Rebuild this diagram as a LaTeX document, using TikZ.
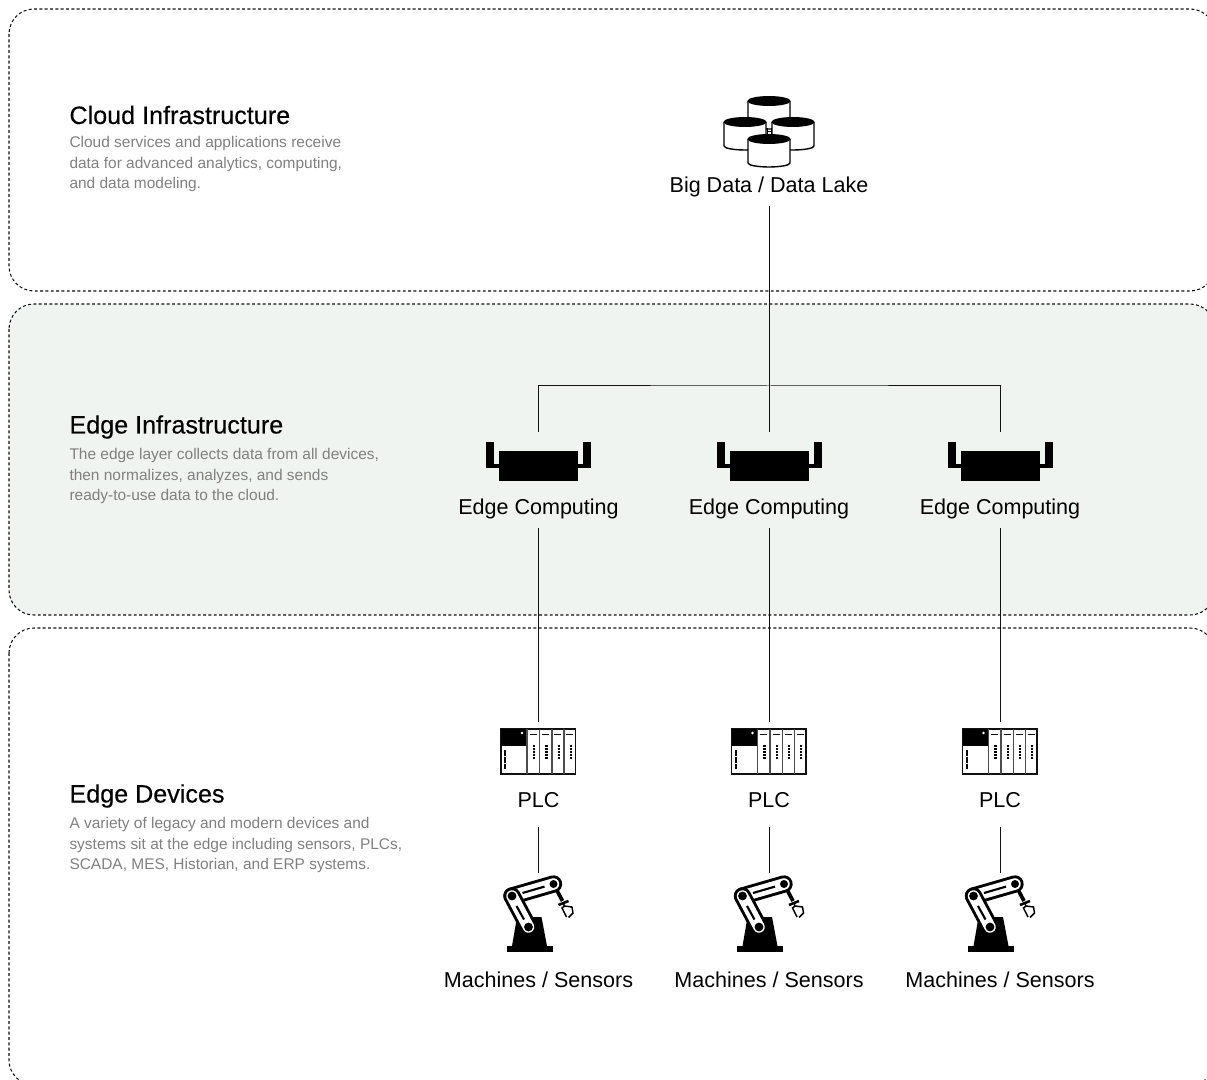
\documentclass[tikz,border=0pt]{standalone}
\usepackage{fontspec}
\setmainfont{Liberation Sans}
\definecolor{edgebg}{HTML}{EFF4F1}
\definecolor{desc}{HTML}{808080}
\definecolor{ink}{HTML}{111111}
\tikzset{
  x=0.75pt,y=-0.75pt,
  region/.style={draw=ink,line width=0.8pt,dash pattern=on 2.2pt off 1.8pt,rounded corners=18.75pt},
  wire/.style={draw=ink,line width=0.75pt},
  lbl/.style={inner sep=0pt,outer sep=0pt,font=\fontsize{16.15}{19}\selectfont,text=black,minimum height=29.25pt,align=center},
  lblplc/.style={lbl,minimum height=39.75pt},
  heading/.style={inner sep=0pt,outer sep=0pt,anchor=west,font=\fontsize{18.85}{22}\selectfont\addfontfeature{FakeBold=0.25},text=black},
  descr/.style={inner sep=0pt,outer sep=0pt,anchor=north west,align=left,font=\fontsize{11.6}{15.6}\selectfont,text=desc},
  holder/.style={inner sep=0pt,outer sep=0pt,minimum width=30pt},
  cyl/.pic={
    \draw[fill=white,line width=1.05pt,draw=black] (-21,0) -- (-21,24) arc[start angle=180,end angle=0,x radius=21,y radius=4] -- (21,0);
    \fill[black] (0,0) ellipse[x radius=21.6,y radius=5];
  },
  edgeicon/.pic={
    \fill[black] (-39.5,-6) rectangle (39.5,24);
    \fill[black] (-52.5,-15) rectangle (-44.5,11);
    \fill[black] (44.5,-15) rectangle (52.5,11);
    \fill[black] (-44.5,7) rectangle (-39.5,11);
    \fill[black] (39.5,7) rectangle (44.5,11);
  },
  plcicon/.pic={
    \draw[fill=white,draw=ink,line width=1pt] (-37.5,-22) rectangle (37,23);
    \fill[black] (-37.5,-22) rectangle (-11.5,-5.5);
    \fill[white] (-16.5,-18) circle[radius=1.4];
    \foreach \yy in {-1,5.8,12.6} {\fill[black] (-34.5,\yy) rectangle (-32.1,\yy+5.8);}
    \foreach \xx in {-11.5,1,13.3,25.3} {
      \draw[ink!75,line width=1.2pt] (\xx,-22) -- (\xx,23);
      \draw[ink,line width=0.75pt] (\xx+2.5,-16.7) -- (\xx+9.5,-16.7);
      \foreach \yy in {-6.4,-3.2,0,3.2,6.4} {\fill[black] (\xx+5.9,\yy) rectangle (\xx+8.1,\yy+2);}
    }
  },
  roboticon/.pic={
    \fill[black] (-32,31) rectangle (14,37);
    \fill[black] (-26.5,31) -- (-22.5,8) -- (-22,2) -- (3,2) -- (8.5,31) -- cycle;
    % wrist and gripper
    \draw[black,line width=2.8pt] (15,-31) -- (24,-14);
    \draw[black,line width=1.9pt] (20,-10) -- (30,-14);
    \draw[black,line width=1.1pt] (25,-12) -- (26,-8);
    \draw[black,line width=1.1pt] (26,-9) -- (23.5,-7) -- (28,2);
    \draw[black,line width=1.1pt] (26,-9) -- (33.5,-8) -- (34.5,-2) -- (30,2.5);
    % upper link
    \draw[black,line width=13pt,line cap=round] (-26.5,-19) -- (15,-31);
    \draw[white,line width=8.6pt,line cap=round] (-26.5,-19) -- (15,-31);
    \draw[black,line width=1.6pt] (-16,-22) -- (6,-28.4);
    \fill[black] (15,-31) circle[radius=4];
    % lower link
    \draw[black,line width=13pt,line cap=round] (-26.5,-19) -- (-10,12);
    \draw[white,line width=8.6pt,line cap=round] (-26.5,-19) -- (-10,12);
    \draw[black,line width=1.6pt] (-22,-9) -- (-14.5,4.5);
    \fill[black] (-26.5,-19) circle[radius=4.4];
    \fill[black] (-10,12) circle[radius=4.4];
  },
}
\begin{document}
\begin{tikzpicture}
\useasboundingbox (0,0) rectangle (1207,1080);
\begin{scope}
  \clip (0,0) rectangle (1207,1080);
  \path[region] (9,9) rectangle (1215,291);
  \path[region,fill=edgebg] (9,304) rectangle (1215,615);
  \path[region] (9,628) rectangle (1215,1085);
\end{scope}

% left column
\node[heading] (h1) at (69.5,115) {Cloud Infrastructure};
\node[descr] (d1) at (69.5,136) {Cloud services and applications receive\\data for advanced analytics, computing,\\and data modeling.};
\node[heading] (h2) at (69.5,427) {Edge Infrastructure};
\node[descr] (d2) at (69.5,448) {The edge layer collects data from all devices,\\then normalizes, analyzes, and sends\\ready-to-use data to the cloud.};
\node[heading] (h3) at (69.5,796) {Edge Devices};
\node[descr] (d3) at (69.5,817) {A variety of legacy and modern devices and\\systems sit at the edge including sensors, PLCs,\\SCADA, MES, Historian, and ERP systems.};

% big data
\pic at (769,101) {cyl};
\fill[black] (766.5,128) rectangle (767.7,134.5);
\fill[black] (771.3,128) rectangle (772.5,134.5);
\fill[black] (767,130.6) rectangle (772,131.8);
\pic at (745,122) {cyl};
\pic at (793,122) {cyl};
\pic at (769,139) {cyl};
\node[lbl] (bd) at (769,186.5) {Big Data / Data Lake};
\coordinate (bus) at (769,386);

% columns
\foreach \n/\x in {1/538.5,2/769,3/1000} {
  \node[holder,minimum height=37.5pt] (e\n) at (\x,457) {};
  \pic at (\x,457) {edgeicon};
  \node[lbl] (el\n) at (\x,508.5) {Edge Computing};
  \node[holder,minimum height=43.5pt] (p\n) at (\x,751) {};
  \pic at (\x,751) {plcicon};
  \node[lblplc] (pl\n) at (\x,800.5) {PLC};
  \node[holder,minimum height=63pt] (r\n) at (\x,915) {};
  \pic at (\x,915) {roboticon};
  \node[lbl] (rl\n) at (\x,980) {Machines / Sensors};
  \draw[wire] (el\n.south) -- (p\n.north);
  \draw[wire] (pl\n.south) -- (r\n.north);
}
\draw[wire] (bd.south) -- (e2.north);
\draw[wire] (e1.north) |- (bus) -| (e3.north);
\end{tikzpicture}
\end{document}
